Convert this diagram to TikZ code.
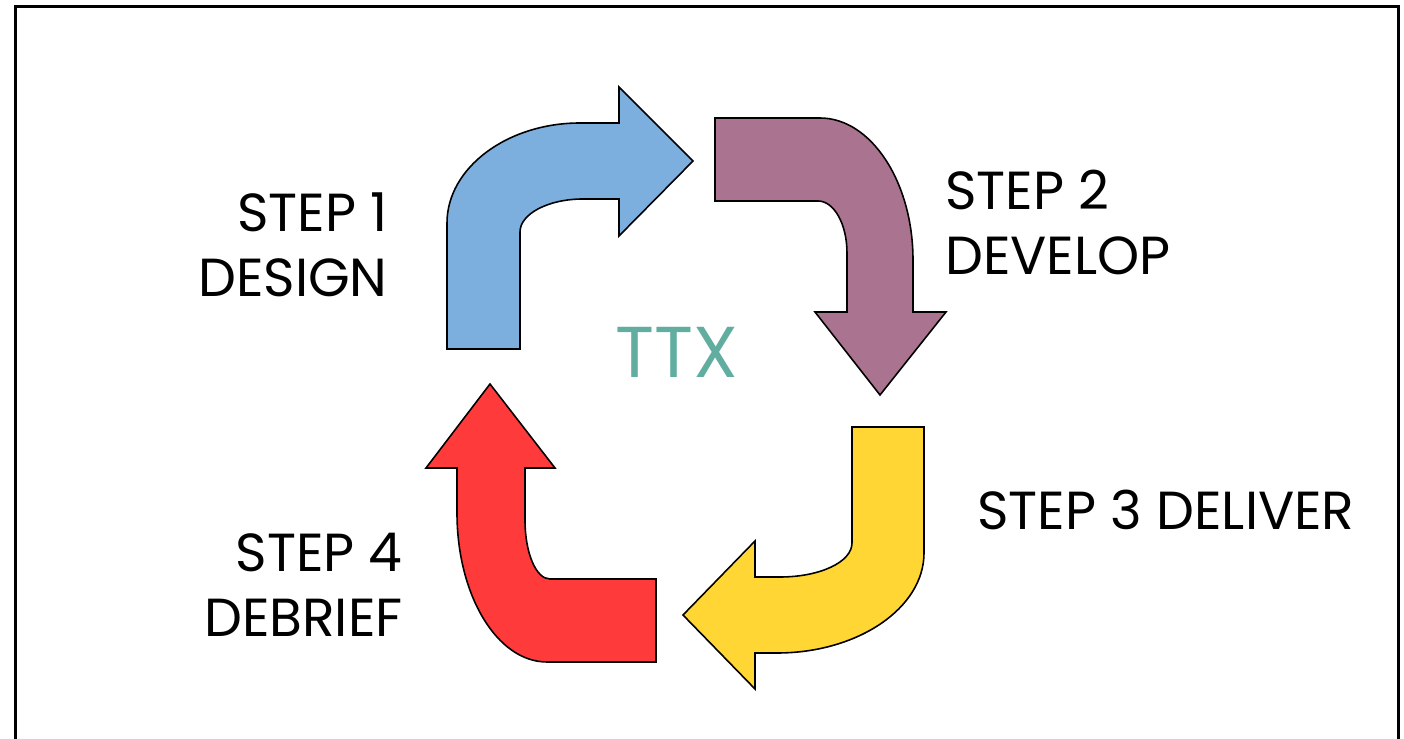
\documentclass[tikz,border=0pt]{standalone}
\usepackage{fontspec}
\setmainfont{Poppins}
\usepackage{xcolor}
\usepackage{tikz}
\definecolor{designc}{RGB}{124,175,221}
\definecolor{developc}{RGB}{170,115,143}
\definecolor{deliverc}{RGB}{255,214,52}
\definecolor{debriefc}{RGB}{255,58,58}
\definecolor{ttxc}{RGB}{97,174,160}

\begin{document}
\begin{tikzpicture}[x=0.02cm,y=-0.02cm,
  bentarrow/.style={draw=black,line width=0.9pt,line join=miter},
  steplabel/.style={font=\fontsize{30.5}{37}\selectfont,inner sep=0pt}]
% frame, cut off at the bottom edge
\useasboundingbox (0,0) rectangle (1404,739);
\clip (0,0) rectangle (1404,739);
\draw[line width=0.06cm] (15.5,7) rectangle (1398,770);
% the four bent arrows, clockwise from top left
\filldraw[bentarrow,fill=designc] (447,349) -- (447,223)
  .. controls (447,168) and (507,123) .. (580,123) -- (619,123) -- (619,87)
  -- (693,161) -- (619,236) -- (619,199) -- (583,199)
  .. controls (548,199) and (520,214) .. (520,232) -- (520,349) -- cycle;
\filldraw[bentarrow,fill=developc] (715,118) -- (820,118)
  .. controls (871,118) and (913,182) .. (913,260) -- (913,312) -- (946,312)
  -- (880,395) -- (815,312) -- (847,312) -- (847,253)
  .. controls (847,224) and (834,201) .. (818,201) -- (715,201) -- cycle;
\filldraw[bentarrow,fill=deliverc] (852,427) -- (924,427) -- (924,553)
  .. controls (924,608) and (858,653) .. (777,653) -- (755,653) -- (755,689)
  -- (683,615) -- (755,541) -- (755,577) -- (780,577)
  .. controls (820,577) and (852,562) .. (852,543) -- cycle;
\filldraw[bentarrow,fill=debriefc] (656,579) -- (656,662) -- (547,662)
  .. controls (497,662) and (457,595) .. (457,513) -- (457,468) -- (426,468)
  -- (490,384) -- (555,468) -- (525,468) -- (525,520)
  .. controls (525,553) and (536,579) .. (550,579) -- cycle;
% labels (base = baseline of the last line)
\node[steplabel,align=right,anchor=base east] (design) at (388,297) {STEP 1\\DESIGN};
\node[steplabel,align=left,anchor=base west] (develop) at (945,275) {STEP 2\\DEVELOP};
\node[steplabel,anchor=base west] (deliver) at (977,530) {STEP 3 DELIVER};
\node[steplabel,align=right,anchor=base east] (debrief) at (403,637) {STEP 4\\DEBRIEF};
\node[font=\fontsize{41}{48}\selectfont,text=ttxc,inner sep=0pt,anchor=base] (ttx) at (677,378) {TTX};
\end{tikzpicture}
\end{document}
